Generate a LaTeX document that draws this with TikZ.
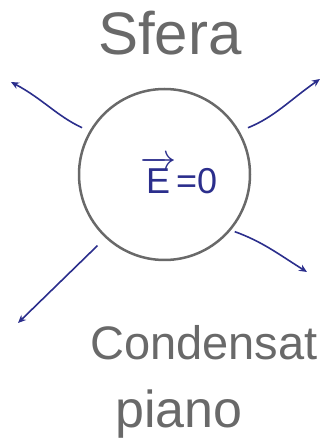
\RequirePackage{fix-cm}
\documentclass[tikz,border=0pt]{standalone}
\usepackage{amsmath}
\usepackage{fontspec}
\setmainfont{Liberation Sans}
\usepackage{tikz}
\usetikzlibrary{arrows.meta}

\definecolor{inkblue}{RGB}{43,46,140}
\definecolor{pengray}{RGB}{105,105,105}

\begin{document}
\begin{tikzpicture}[x=1pt, y=1pt,
    ball/.style = {draw=pengray, circle, line width=2.5pt, minimum size=171pt},
    ray/.style = {draw=inkblue, line width=1.6pt, -{Stealth[length=8pt,width=7pt]}},
    hand/.style = {text=pengray, inner sep=0pt, anchor=base west}]
    \useasboundingbox (0,0) rectangle (322,442);
    \node[ball] (sfera) at (164.5,267.5) {};
    \node[hand, font=\fontsize{60}{72}\selectfont] (titolo) at (98,387) {Sfera};
    \node[hand, text=inkblue, font=\fontsize{36}{44}\selectfont] (campo) at (140,248)
        {\(\overrightarrow{\text{E}}\)=0};
    \node[hand, font=\fontsize{47}{56}\selectfont] (cond) at (90,82) {Condensat};
    \node[hand, font=\fontsize{52}{62}\selectfont] (piano) at (115,15) {piano};
    % free ends of the field lines
    \coordinate (nw) at (11,360);
    \coordinate (ne) at (320,363);
    \coordinate (se) at (307,170);
    \coordinate (sw) at (18,119);
    \draw[ray, shorten <=8pt] (sfera.150.6) to[out=155, in=-28] (nw);
    \draw[ray, shorten <=9pt] (sfera.30.4) to[out=22, in=215] (ne);
    \draw[ray, shorten <=4pt] (sfera.-40.1) to[out=-20, in=148] (se);
    \draw[ray, shorten <=11pt] (sfera.227.9) -- (sw);
\end{tikzpicture}
\end{document}
